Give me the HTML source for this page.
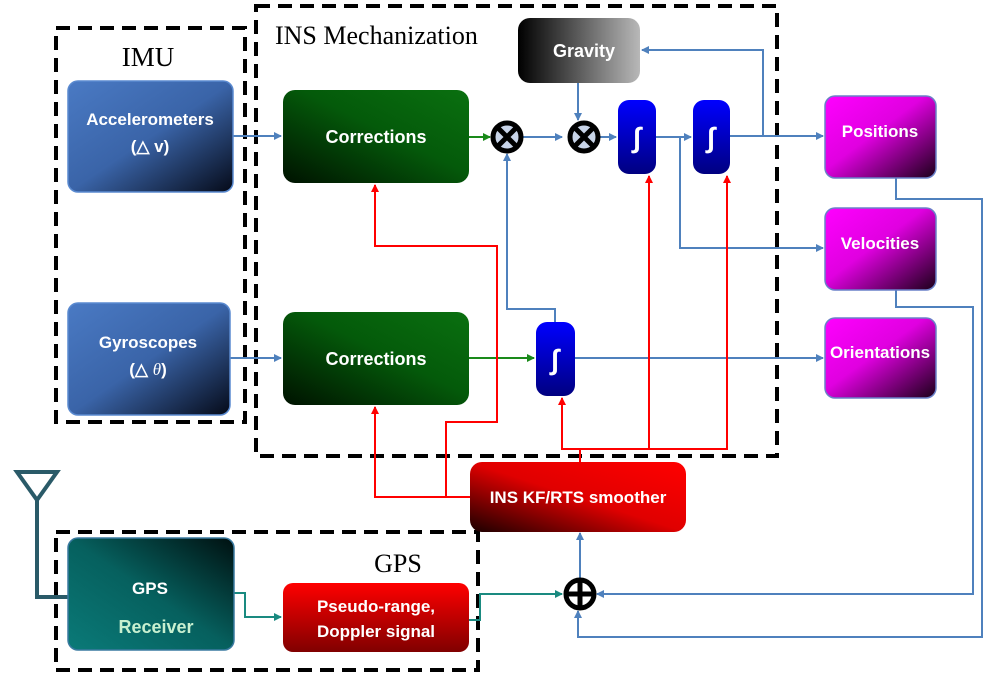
<!DOCTYPE html>
<html><head><meta charset="utf-8"><style>
html,body{margin:0;padding:0;background:#fff;width:1000px;height:681px;overflow:hidden}
svg{display:block}
.t{font-family:"Liberation Sans",sans-serif;font-weight:bold;fill:#fff;text-anchor:middle}
.s{font-family:"Liberation Serif",serif;fill:#000}
</style></head><body>
<svg width="1000" height="681" viewBox="0 0 1000 681">
<defs>
<linearGradient id="gb" x1="0" y1="0" x2="1" y2="1"><stop offset="0" stop-color="#4a7ac4"/><stop offset="0.5" stop-color="#3a64a8"/><stop offset="1" stop-color="#050a18"/></linearGradient>
<linearGradient id="gg" x1="1" y1="0" x2="0" y2="1"><stop offset="0" stop-color="#0a7010"/><stop offset="0.45" stop-color="#045a0a"/><stop offset="1" stop-color="#001200"/></linearGradient>
<linearGradient id="gm" x1="0" y1="0" x2="1" y2="1"><stop offset="0" stop-color="#ff00ff"/><stop offset="0.45" stop-color="#e000e0"/><stop offset="1" stop-color="#1a0018"/></linearGradient>
<linearGradient id="gk" x1="0" y1="0" x2="1" y2="0"><stop offset="0" stop-color="#000"/><stop offset="1" stop-color="#b8b8b8"/></linearGradient>
<linearGradient id="gr" x1="1" y1="0" x2="0" y2="1"><stop offset="0" stop-color="#ff0000"/><stop offset="0.5" stop-color="#e00000"/><stop offset="1" stop-color="#1a0000"/></linearGradient>
<linearGradient id="gr2" x1="0" y1="0" x2="0" y2="1"><stop offset="0" stop-color="#ff0000"/><stop offset="1" stop-color="#800000"/></linearGradient>
<linearGradient id="gt" x1="0" y1="1" x2="1" y2="0"><stop offset="0" stop-color="#0a7a78"/><stop offset="0.5" stop-color="#06605e"/><stop offset="1" stop-color="#001010"/></linearGradient>
<linearGradient id="gi" x1="0" y1="0" x2="0" y2="1"><stop offset="0" stop-color="#0000ff"/><stop offset="1" stop-color="#000080"/></linearGradient>
<marker id="ab" markerWidth="8" markerHeight="8" refX="7" refY="4" orient="auto" markerUnits="userSpaceOnUse"><path d="M0,0L8,4L0,8z" fill="#4f81bd"/></marker>
<marker id="ag" markerWidth="8" markerHeight="8" refX="7" refY="4" orient="auto" markerUnits="userSpaceOnUse"><path d="M0,0L8,4L0,8z" fill="#1a8a1a"/></marker>
<marker id="ar" markerWidth="8" markerHeight="8" refX="7" refY="4" orient="auto" markerUnits="userSpaceOnUse"><path d="M0,0L8,4L0,8z" fill="#ff0000"/></marker>
<marker id="at" markerWidth="8" markerHeight="8" refX="7" refY="4" orient="auto" markerUnits="userSpaceOnUse"><path d="M0,0L8,4L0,8z" fill="#1a8a80"/></marker>
</defs>

<g fill="none" stroke="#000" stroke-width="4" stroke-dasharray="14,8">
<rect x="56" y="28" width="189" height="394"/>
<rect x="256" y="6" width="521" height="450"/>
<rect x="56" y="532" width="422" height="138"/>
</g>
<text class="s" x="148" y="66" font-size="27" text-anchor="middle">IMU</text>
<text class="s" x="275" y="44" font-size="26">INS Mechanization</text>
<text class="s" x="398" y="572" font-size="26" text-anchor="middle">GPS</text>

<g fill="none" stroke="#4f81bd" stroke-width="2">
<path d="M233,136H281" marker-end="url(#ab)"/>
<path d="M522,137H562" marker-end="url(#ab)"/>
<path d="M593,137H616" marker-end="url(#ab)"/>
<path d="M656,137H691" marker-end="url(#ab)"/>
<path d="M730,136H823" marker-end="url(#ab)"/>
<path d="M763,136V50H642" marker-end="url(#ab)"/>
<path d="M578,83V120" marker-end="url(#ab)"/>
<path d="M680,137V248H823" marker-end="url(#ab)"/>
<path d="M555,322V309H507V154" marker-end="url(#ab)"/>
<path d="M230,358H281" marker-end="url(#ab)"/>
<path d="M575,358H823" marker-end="url(#ab)"/>
<path d="M580,579V533" marker-end="url(#ab)"/>
<path d="M896,178V199H982V637H578V611" marker-end="url(#ab)"/>
<path d="M896,290V307H973V594H597" marker-end="url(#ab)"/>
</g>
<g fill="none" stroke="#1a8a1a" stroke-width="2">
<path d="M469,137H490" marker-end="url(#ag)"/>
<path d="M469,358H534" marker-end="url(#ag)"/>
</g>
<g fill="none" stroke="#ff0000" stroke-width="2">
<path d="M470,497H375V407" marker-end="url(#ar)"/>
<path d="M446,497V422H497V246H375V185" marker-end="url(#ar)"/>
<path d="M580,462V449H562V398" marker-end="url(#ar)"/>
<path d="M562,449H727V176" marker-end="url(#ar)"/>
<path d="M649,449V176" marker-end="url(#ar)"/>
</g>
<g fill="none" stroke="#1a8a80" stroke-width="2">
<path d="M234,593H245V617H281" marker-end="url(#at)"/>
<path d="M469,620H480V594H562" marker-end="url(#at)"/>
</g>
<g fill="none" stroke="#2a5a68" stroke-width="4">
<path d="M17,472H57L37,500Z"/>
<path d="M37,500V597H75"/>
</g>

<rect x="68" y="81" width="165" height="111" rx="10" fill="url(#gb)" stroke="#5a8ad0" stroke-width="1.5"/>
<text class="t" x="150" y="125" font-size="17">Accelerometers</text>
<text class="t" x="150" y="152" font-size="17">(△ v)</text>
<rect x="68" y="303" width="162" height="112" rx="10" fill="url(#gb)" stroke="#5a8ad0" stroke-width="1.5"/>
<text class="t" x="148" y="348" font-size="17">Gyroscopes</text>
<text class="t" x="148" y="375" font-size="17">(△ <tspan font-style="italic" font-family="Liberation Serif" font-weight="normal">θ</tspan>)</text>

<rect x="283" y="90" width="186" height="93" rx="12" fill="url(#gg)"/>
<text class="t" x="376" y="143" font-size="18">Corrections</text>
<rect x="283" y="312" width="186" height="93" rx="12" fill="url(#gg)"/>
<text class="t" x="376" y="365" font-size="18">Corrections</text>

<rect x="518" y="18" width="122" height="65" rx="12" fill="url(#gk)"/>
<text class="t" x="584" y="57" font-size="18">Gravity</text>

<rect x="618" y="100" width="38" height="74" rx="11" fill="url(#gi)"/>
<text class="t" x="637" y="147" font-size="28" font-weight="normal" font-family="Liberation Serif">∫</text>
<rect x="693" y="100" width="37" height="74" rx="11" fill="url(#gi)"/>
<text class="t" x="711" y="147" font-size="28" font-weight="normal" font-family="Liberation Serif">∫</text>
<rect x="536" y="322" width="39" height="74" rx="11" fill="url(#gi)"/>
<text class="t" x="555" y="369" font-size="28" font-weight="normal" font-family="Liberation Serif">∫</text>

<g>
<circle cx="507" cy="137" r="14" fill="#c8d4e8" stroke="#000" stroke-width="5"/>
<path d="M497,127L517,147M517,127L497,147" stroke="#000" stroke-width="5"/>
<circle cx="584" cy="137" r="14" fill="#c8d4e8" stroke="#000" stroke-width="5"/>
<path d="M574,127L594,147M594,127L574,147" stroke="#000" stroke-width="5"/>
<circle cx="580" cy="594" r="14" fill="#fff" stroke="#000" stroke-width="5"/>
<path d="M566,594H594M580,580V608" stroke="#000" stroke-width="5"/>
</g>

<rect x="825" y="96" width="111" height="82" rx="10" fill="url(#gm)" stroke="#6a80c8" stroke-width="1.5"/>
<text class="t" x="880" y="137" font-size="17">Positions</text>
<rect x="825" y="208" width="111" height="82" rx="10" fill="url(#gm)" stroke="#6a80c8" stroke-width="1.5"/>
<text class="t" x="880" y="249" font-size="17">Velocities</text>
<rect x="825" y="318" width="111" height="80" rx="10" fill="url(#gm)" stroke="#6a80c8" stroke-width="1.5"/>
<text class="t" x="880" y="358" font-size="17">Orientations</text>

<rect x="470" y="462" width="216" height="70" rx="12" fill="url(#gr)"/>
<text class="t" x="578" y="503" font-size="17">INS KF/RTS smoother</text>

<rect x="283" y="583" width="186" height="69" rx="10" fill="url(#gr2)"/>
<text class="t" x="376" y="612" font-size="17">Pseudo-range,</text>
<text class="t" x="376" y="637" font-size="17">Doppler signal</text>

<rect x="68" y="538" width="166" height="112" rx="10" fill="url(#gt)" stroke="#3a7aa0" stroke-width="1.5"/>
<text class="t" x="150" y="594" font-size="17">GPS</text>
<text class="t" x="156" y="633" font-size="18" style="fill:#c8f0d0">Receiver</text>
</svg>
</body></html>
